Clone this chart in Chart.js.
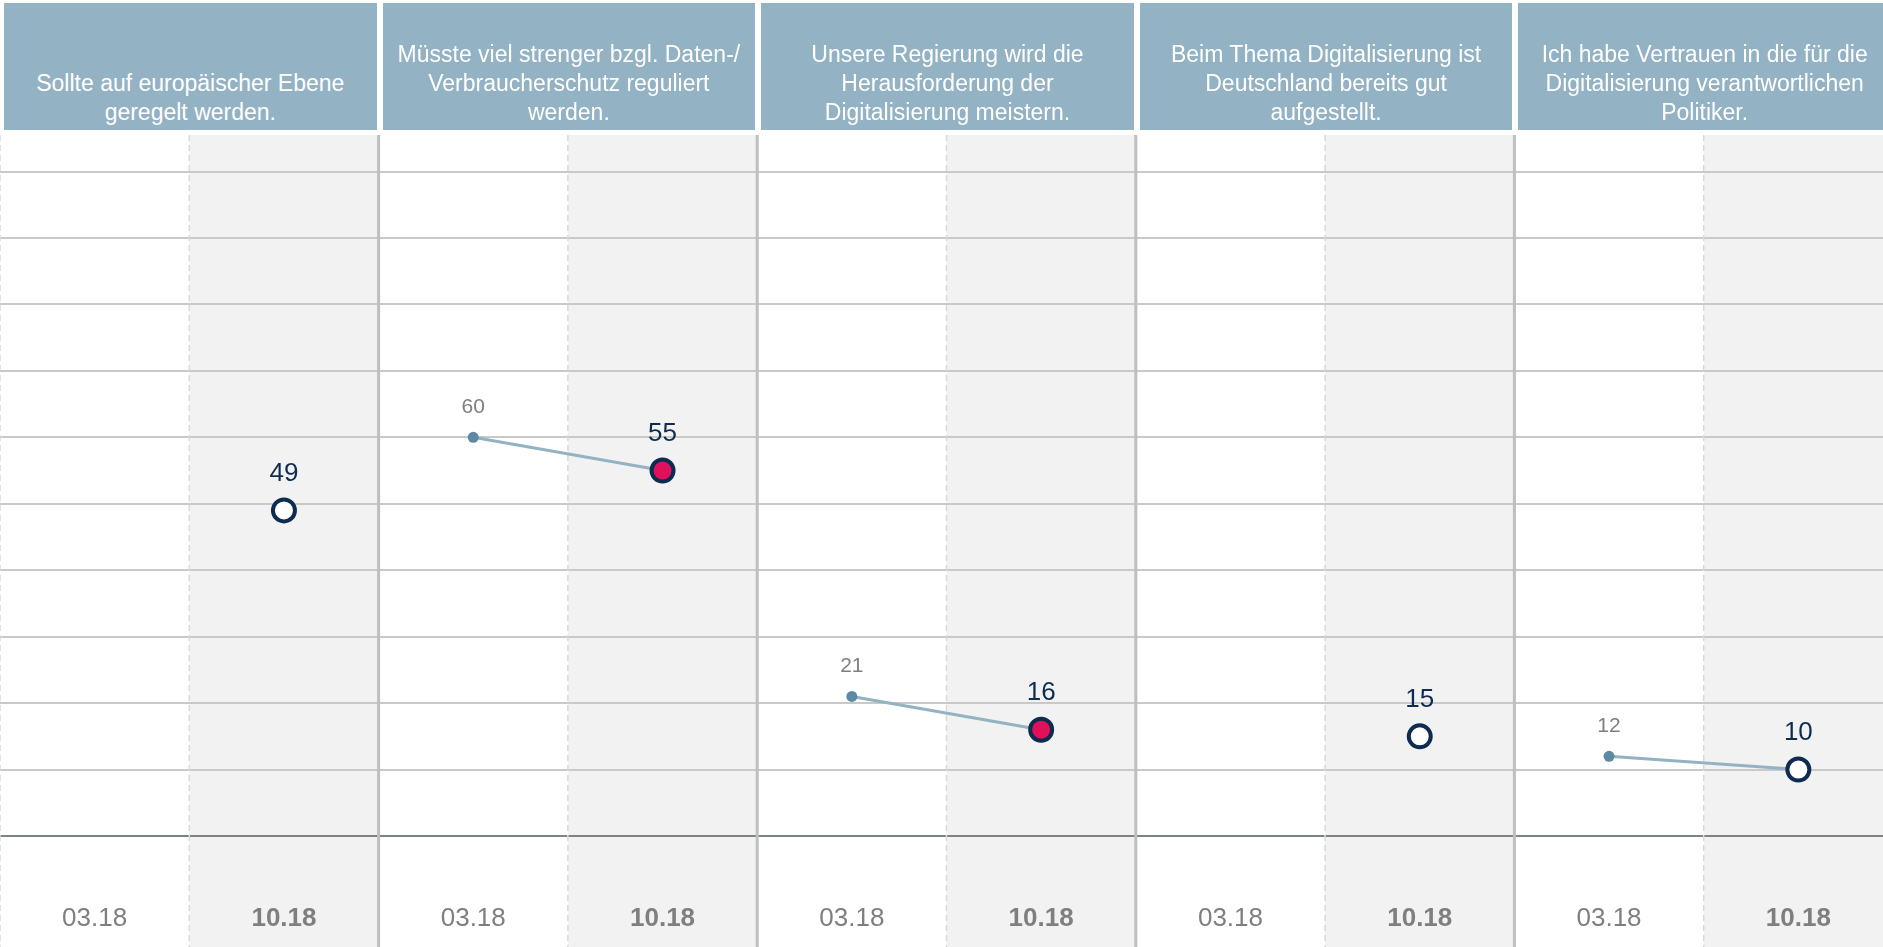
<!DOCTYPE html>
<html lang="de">
<head>
<meta charset="utf-8">
<title>Digitalisierung – Zustimmung 03.18 / 10.18</title>
<script src="https://cdn.jsdelivr.net/npm/chart.js@4.4.1/dist/chart.umd.min.js"></script>
<style>
  html, body { margin: 0; padding: 0; background: #fff; overflow: hidden; }
  #wrap { position: relative; width: 1893px; height: 947px; }
  #chart-box { position: absolute; left: 0; top: 0; width: 1893px; height: 947px; }
  .head {
    position: absolute; top: 3px; height: 127px;
    background: #93b2c3; color: #fff;
    font-family: 'Liberation Sans', Arial, sans-serif; font-size: 23px; line-height: 29px;
    display: flex; align-items: flex-end; justify-content: center;
    text-align: center; white-space: pre-line; box-sizing: border-box; padding-bottom: 3px;
  }
</style>
</head>
<body>
<div id="wrap">
  <div id="chart-box"><canvas id="chart"></canvas></div>
</div>
<script>
// Daten
const topics = [
  'Sollte auf europäischer Ebene\ngeregelt werden.',
  'Müsste viel strenger bzgl. Daten-/\nVerbraucherschutz reguliert\nwerden.',
  'Unsere Regierung wird die\nHerausforderung der\nDigitalisierung meistern.',
  'Beim Thema Digitalisierung ist\nDeutschland bereits gut\naufgestellt.',
  'Ich habe Vertrauen in die für die\nDigitalisierung verantwortlichen\nPolitiker.'
];
const waves = ['03.18', '10.18'];
const values0318 = [null, 60, 21, null, 12];
const values1018 = [49, 55, 16, 15, 10];
const significant = [false, true, true, false, false];
const yTicks = [0, 10, 20, 30, 40, 50, 60, 70, 80, 90, 100];

// Farben
const COLORS = {
  band: '#f2f2f2',
  grid: '#c9c9c9',
  base: '#7d838b',
  sep: '#bfbfbf',
  dash: '#d9d9d9',
  oldPoint: '#5c8aa5',
  line: '#93b2c3',
  navy: '#0d2c50',
  red: '#e1105a',
  tick: '#7f7f7f'
};
const FONT = "'Liberation Sans', Arial, sans-serif";

const labels = [];
topics.forEach(() => waves.forEach(w => labels.push(w)));

// Kopfzeilen (HTML)
const wrap = document.getElementById('wrap');
const panelW = 1893 / topics.length;
topics.forEach((t, i) => {
  const d = document.createElement('div');
  d.className = 'head';
  d.style.left = (i * panelW + 4) + 'px';
  d.style.width = (panelW - 6) + 'px';
  d.textContent = t;
  wrap.appendChild(d);
});

// ein Datensatz pro Thema, damit nur die beiden Wellen verbunden werden
const datasets = topics.map((t, p) => {
  const data = new Array(labels.length).fill(null);
  data[p * 2] = values0318[p];
  data[p * 2 + 1] = values1018[p];
  return {
    label: t,
    data,
    borderColor: COLORS.line,
    borderWidth: 3,
    pointRadius: c => c.dataIndex % 2 ? 11 : 5.5,
    pointBorderWidth: c => c.dataIndex % 2 ? 4 : 0,
    pointBorderColor: c => c.dataIndex % 2 ? COLORS.navy : COLORS.oldPoint,
    pointBackgroundColor: c => c.dataIndex % 2 ? (significant[p] ? COLORS.red : '#fff') : COLORS.oldPoint
  };
});

// Hintergrund-Streifen für 10.18
const bandPlugin = {
  id: 'bands',
  beforeDraw(chart) {
    const { ctx, chartArea, scales: { x } } = chart;
    const w = x.width / labels.length;
    ctx.save();
    ctx.fillStyle = COLORS.band;
    labels.forEach((l, i) => {
      if (i % 2 === 1) {
        const cx = x.getPixelForValue(i);
        ctx.fillRect(cx - w / 2, chartArea.top, w, chart.height - chartArea.top);
      }
    });
    ctx.restore();
  }
};

// Trennlinien zwischen Themen / Wellen
const separatorPlugin = {
  id: 'separators',
  beforeDatasetsDraw(chart) {
    const { ctx, chartArea, scales: { x } } = chart;
    const w = x.width / labels.length;
    ctx.save();
    for (let i = 0; i < labels.length; i++) {
      const ex = x.getPixelForValue(i) - w / 2;
      ctx.beginPath();
      if (i % 2 === 0 && i > 0) {
        ctx.strokeStyle = COLORS.sep;
        ctx.lineWidth = 3;
        ctx.setLineDash([]);
      } else {
        ctx.strokeStyle = COLORS.dash;
        ctx.lineWidth = 1.5;
        ctx.setLineDash([6, 4]);
      }
      ctx.moveTo(ex, chartArea.top);
      ctx.lineTo(ex, chart.height);
      ctx.stroke();
    }
    ctx.restore();
  }
};

// Werte über den Punkten
const valueLabelPlugin = {
  id: 'valueLabels',
  afterDatasetsDraw(chart) {
    const { ctx } = chart;
    ctx.save();
    ctx.textAlign = 'center';
    ctx.textBaseline = 'middle';
    chart.data.datasets.forEach((ds, di) => {
      const meta = chart.getDatasetMeta(di);
      meta.data.forEach((pt, i) => {
        const v = ds.data[i];
        if (v === null) return;
        if (i % 2) {
          ctx.fillStyle = COLORS.navy;
          ctx.font = '26px ' + FONT;
          ctx.fillText(v, pt.x, pt.y - 37);
        } else {
          ctx.fillStyle = COLORS.tick;
          ctx.font = '21px ' + FONT;
          ctx.fillText(v, pt.x, pt.y - 30);
        }
      });
    });
    ctx.restore();
  }
};

new Chart(document.getElementById('chart'), {
  type: 'line',
  data: { labels, datasets },
  plugins: [bandPlugin, separatorPlugin, valueLabelPlugin],
  options: {
    responsive: true,
    maintainAspectRatio: false,
    animation: false,
    layout: { autoPadding: false, padding: { top: 135, left: 0, right: 0, bottom: 0 } },
    plugins: { legend: { display: false }, tooltip: { enabled: false } },
    scales: {
      x: {
        type: 'category',
        offset: true,
        grid: { display: false, drawTicks: false },
        border: { display: false },
        afterFit: s => { s.height = 111; s.paddingLeft = 0; s.paddingRight = 0; },
        ticks: {
          padding: 67,
          maxRotation: 0,
          autoSkip: false,
          color: COLORS.tick,
          font: c => ({ family: FONT, size: 26, weight: c.index % 2 ? 'bold' : 'normal' })
        }
      },
      y: {
        min: 0,
        max: 105.5,
        afterFit: s => { s.width = 0; },
        afterBuildTicks: s => { s.ticks = yTicks.map(v => ({ value: v })); },
        ticks: { display: false },
        border: { display: false },
        grid: {
          drawTicks: false,
          lineWidth: 2,
          color: c => c.tick && c.tick.value === 0 ? COLORS.base : COLORS.grid
        }
      }
    }
  }
});
</script>
</body>
</html>
